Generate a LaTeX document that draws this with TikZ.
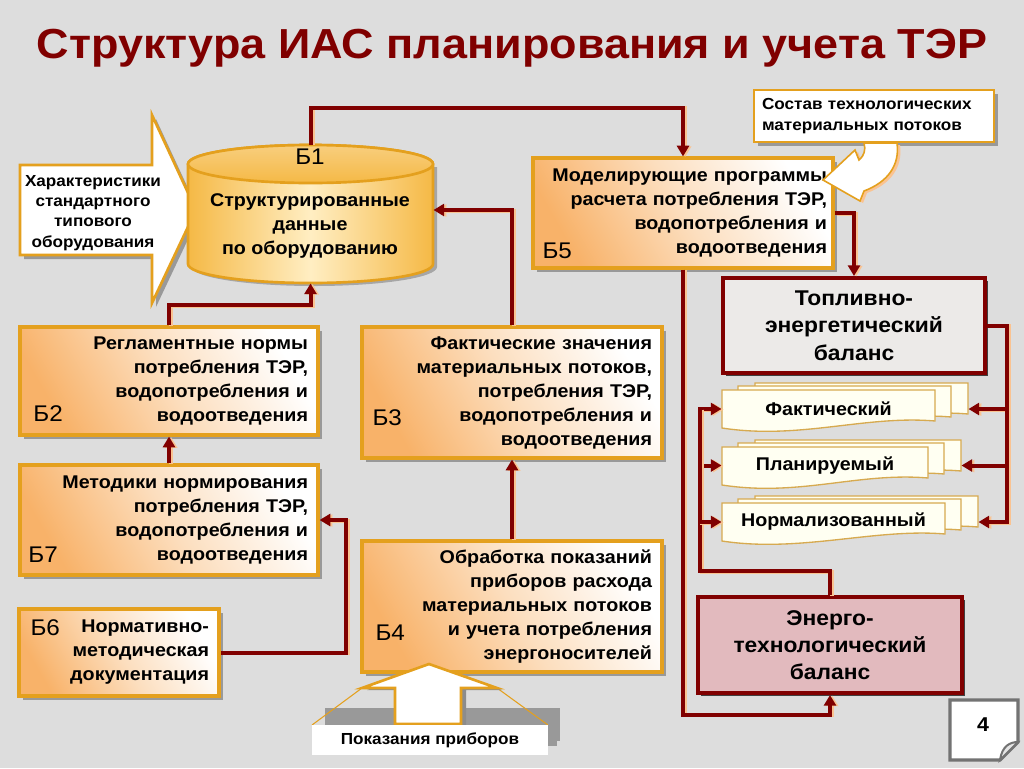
\documentclass[tikz,border=0pt]{standalone}
\usepackage{fontspec}
\setmainfont{Liberation Sans}[FakeStretch=1.07]
\usetikzlibrary{arrows.meta,calc,shadows,positioning}

\definecolor{bggray}{RGB}{221,221,221}
\definecolor{dred}{RGB}{128,0,0}
\definecolor{peach}{RGB}{250,195,145}
\definecolor{gold}{RGB}{228,160,30}
\definecolor{boxor}{RGB}{248,178,105}
\definecolor{boxmid}{RGB}{252,222,190}
\definecolor{cylor}{RGB}{245,185,70}
\definecolor{cyllt}{RGB}{255,238,195}
\definecolor{tbgray}{RGB}{236,234,232}
\definecolor{etpink}{RGB}{226,186,190}
\definecolor{docfill}{RGB}{255,255,242}
\definecolor{docedge}{RGB}{215,170,80}

\newcommand\titlefont{\fontsize{31.5}{36}\bfseries}
\newcommand\bodyfont{\fontsize{13.8}{18}\bfseries}
\newcommand\smallfont{\fontsize{12}{15.2}\bfseries}
\newcommand\balfont{\fontsize{16}{20.5}\bfseries}
\newcommand\numfont{\fontsize{17}{20}\selectfont}

\tikzset{every picture/.style={line width=0.75pt}}
\tikzset{
  conn/.style={draw=dred, line width=3pt,
    preaction={draw=peach, line width=3pt, transform canvas={shift={(1.6pt,-0.4pt)}}}},
  tip/.style={-{Triangle[length=8pt,width=9pt]}},
  blk/.style={draw=gold, line width=2.4pt, top color=white, bottom color=boxor,
    middle color=boxmid, shading angle=-60, font=\bodyfont, align=right, inner xsep=7.5pt,
    drop shadow={shadow xshift=3pt, shadow yshift=-3pt, fill=black!40, opacity=1}},
  bnum/.style={font=\numfont, inner sep=0pt},
  bal/.style={draw=dred, line width=3pt, fill=tbgray, font=\balfont, align=center,
    drop shadow={shadow xshift=2pt, shadow yshift=-2pt, fill=black!75, opacity=1}},
  docsheet/.style={draw=docedge, line width=1pt, fill=docfill},
  doctxt/.style={font=\bodyfont, inner sep=0pt, minimum height=28.5pt},
  goldline/.style={draw=gold, line width=2pt, fill=white},
}

\begin{document}
\begin{tikzpicture}[x=0.75pt,y=0.75pt,yscale=-1,xscale=1]
\useasboundingbox (0,0) rectangle (1024,768);
\fill[bggray] (0,0) rectangle (1024,768);

% Text Node
\node[font=\titlefont, text=dred, anchor=base] (title) at (512,58) {Структура ИАС планирования и учета ТЭР};

%Shape: Right Arrow
\fill[black!40, shift={(4,4)}] (20,165) -- (152,165) -- (152,115) -- (196,210) -- (152,303) -- (152,255) -- (20,255) -- cycle;
\draw[goldline] (20,165) -- (152,165) -- (152,115) -- (196,210) -- (152,303) -- (152,255) -- (20,255) -- cycle;
% Text Node
\node[font=\smallfont, align=center] (chr) at (93,213) {Характеристики\\стандартного\\типового\\оборудования};

%Shape: Can
\fill[black!35, shift={(4,3)}] (188,164) -- (188,264) arc[start angle=180, end angle=0, x radius=122.5, y radius=19] -- (433,164) -- cycle;
\draw[draw=gold, line width=2pt, left color=cylor, right color=cylor, middle color=cyllt] (188,164) -- (188,264) arc[start angle=180, end angle=0, x radius=122.5, y radius=19] -- (433,164) arc[start angle=0, end angle=-180, x radius=122.5, y radius=19] -- cycle;
\draw[draw=gold, line width=2pt, top color=cylor!70!white, bottom color=cylor] (310.5,164) ellipse [x radius=122.5, y radius=19];
\node[minimum width=183.75pt, minimum height=103.5pt, inner sep=0pt] (b1) at (310.5,214) {};
% Text Node
\node[bnum, anchor=base] (b1l) at (310,164) {Б1};
% Text Node
\node[font=\bodyfont, align=center] (b1t) at (310,226) {Структурированные\\данные\\по оборудованию};

%Shape: Rectangle
\node[blk, minimum width=223.5pt, minimum height=81pt, text width=208.5pt] (b2) at (169,381) {Регламентные нормы\\потребления ТЭР,\\водопотребления и\\водоотведения};
\node[bnum, anchor=base west] (b2l) at (33,421) {Б2};
%Shape: Rectangle
\node[blk, minimum width=223.5pt, minimum height=82.5pt, text width=208.5pt] (b7) at (169,520) {Методики нормирования\\потребления ТЭР,\\водопотребления и\\водоотведения};
\node[bnum, anchor=base west] (b7l) at (28,562) {Б7};
%Shape: Rectangle
\node[blk, minimum width=150pt, minimum height=65.25pt, text width=135pt] (b6) at (119,652.5) {Нормативно-\\методическая\\документация};
\node[bnum, anchor=base west] (b6l) at (30,635) {Б6};
%Shape: Rectangle
\node[blk, minimum width=225pt, minimum height=98.25pt, text width=210pt] (b3) at (512,392.5) {Фактические значения\\материальных потоков,\\потребления ТЭР,\\водопотребления и\\водоотведения};
\node[bnum, anchor=base west] (b3l) at (372,425) {Б3};
%Shape: Rectangle
\node[blk, minimum width=225pt, minimum height=98.25pt, text width=210pt] (b4) at (512,606.5) {Обработка показаний\\приборов расхода\\материальных потоков\\и учета потребления\\энергоносителей};
\node[bnum, anchor=base west] (b4l) at (375,640) {Б4};
%Shape: Rectangle
\node[blk, minimum width=225pt, minimum height=82.5pt, text width=216pt, inner xsep=4.5pt] (b5) at (683,213) {Моделирующие программы\\расчета потребления ТЭР,\\водопотребления и\\водоотведения};
\node[bnum, anchor=base west] (b5l) at (542,258) {Б5};

%Shape: Rectangle
\node[draw=gold, line width=2pt, fill=white, font=\smallfont, align=left, text width=168pt, inner xsep=6pt, minimum width=180pt, minimum height=39pt, drop shadow={shadow xshift=3pt, shadow yshift=-3pt, fill=black!40, opacity=1}] (sost) at (874,116) {Состав технологических\\материальных потоков};
%Curve Arrow
\fill[peach, shift={(3,2)}] (864,143) .. controls (866,150) and (864,156) .. (859,160) -- (855,150) -- (823,180) -- (860,201) -- (864,191) .. controls (888,182) and (900,165) .. (897,143) -- cycle;
\draw[goldline, line width=1.2pt] (864,143) .. controls (866,150) and (864,156) .. (859,160) -- (855,150) -- (823,180) -- (860,201) -- (864,191) .. controls (888,182) and (900,165) .. (897,143) -- cycle;

%Shape: Rectangle
\node[bal, minimum width=196.5pt, minimum height=71.25pt] (tb) at (854,325.5) {Топливно-\\энергетический\\баланс};
%Shape: Rectangle
\node[bal, fill=etpink, minimum width=198pt, minimum height=72pt] (etb) at (830,645) {Энерго-\\технологический\\баланс};

%Shape: Document stacks
\foreach \yy/\xr in {390/935, 447/928, 503/945} {
  \foreach \dx/\dy in {33/-7, 16/-4, 0/0} {
    \draw[docsheet, shift={(\dx,\dy)}] (722,\yy) -- (\xr,\yy) -- (\xr,\yy+31) .. controls (\xr-70,\yy+25) and (800,\yy+50) .. (722,\yy+38) -- cycle;
  }
}
% Text Node
\node[doctxt, minimum width=159.75pt] (fact) at (828.5,409) {Фактический};
% Text Node
\node[doctxt, minimum width=154.5pt] (plan) at (825,465.5) {Планируемый};
% Text Node
\node[doctxt, minimum width=167.25pt] (norm) at (833.5,522) {Нормализованный};

%Shape: Up Arrow
\fill[black!40] (325,708) rectangle (560,741);
\draw[gold, line width=0.8pt] (312,725) -- (362,688);
\draw[gold, line width=0.8pt] (548,725) -- (497,688);
\fill[black!45, shift={(5,2)}] (395,724) -- (395,688) -- (362,688) -- (429,664) -- (497,688) -- (461,688) -- (461,724) -- cycle;
\draw[goldline] (395,724) -- (395,688) -- (362,688) -- (429,664) -- (497,688) -- (461,688) -- (461,724) -- cycle;
\fill[black!40] (548,718) rectangle (557,746);
\node[fill=white, font=\smallfont, minimum width=177pt, minimum height=22.5pt, inner sep=0pt] (pokaz) at (430,740) {Показания приборов};

%Connectors
\draw[conn, tip] (b1.north) -- ++(0,-37) -| (b5.north);
\draw[conn, tip] (b3.north) |- ($(b1.east)+(0,-4)$);
\draw[conn, tip] (b4.north) -- (b3.south);
\draw[conn, tip] (b2.north) -- ++(0,-20) -| (b1.south);
\draw[conn, tip] (b7.north) -- (b2.south);
\draw[conn, tip] (b6.east) -- ++(125,0) |- (b7.east);
\draw[conn, tip] (b5.east) -| (tb.north);
\draw[conn, tip] (b5.south) -- ++(0,445) -| (etb.south);
\draw[conn, tip] (tb.east) -- ++(20,0) |- ($(norm.east)+(33,0)$);
\draw[conn, tip] ($(tb.east)+(20,0)$) |- ($(fact.east)+(33,0)$);
\draw[conn, tip] ($(tb.east)+(20,0)$) |- ($(plan.east)+(33,0)$);
\draw[conn, tip] (etb.north) -- ++(0,-24) -| ($(fact.west)+(-22,0)$) -- (fact.west);
\draw[conn, tip] ($(fact.west)+(-22,0)$) |- (plan.west);
\draw[conn, tip] ($(fact.west)+(-22,0)$) |- (norm.west);

%Shape: Page
\draw[draw=black!55, line width=2.5pt, fill=white] (950,700) -- (1018,700) -- (1018,742) -- (1000,760) -- (950,760) -- cycle;
\draw[draw=black!55, line width=1.5pt, fill=black!10] (1018,742) .. controls (1010,742) and (1002,746) .. (1000,760) -- cycle;
% Text Node
\node[font=\fontsize{15}{18}\bfseries] (pnum) at (983,725) {4};

\end{tikzpicture}
\end{document}
